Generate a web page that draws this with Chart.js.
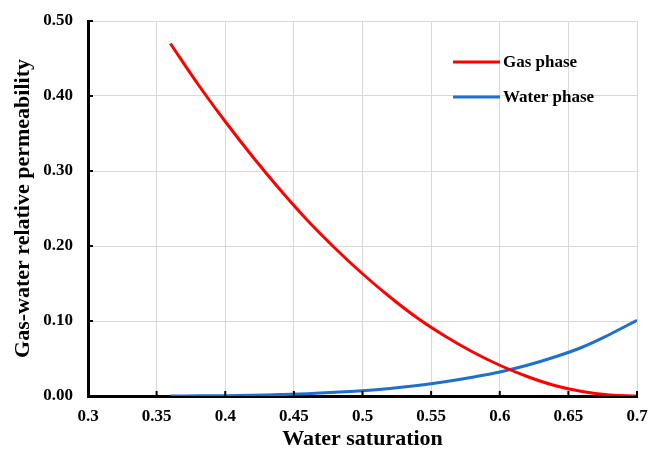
<!DOCTYPE html>
<html>
<head>
<meta charset="utf-8">
<script src="https://cdn.jsdelivr.net/npm/chart.js@4.4.1/dist/chart.umd.min.js"></script>
<style>
  html, body { margin: 0; padding: 0; background: #fff; }
  #wrap { width: 650px; height: 457px; }
</style>
</head>
<body>
<div id="wrap"><canvas id="relPerm" width="650" height="457"></canvas></div>
<script>
// Water saturation samples and relative permeability of each phase
const waterSat   = [0.36, 0.38, 0.40, 0.42, 0.44, 0.46, 0.48, 0.50, 0.52, 0.54, 0.56, 0.58, 0.60, 0.62, 0.64, 0.66, 0.68, 0.70];
const gasPhase   = [0.470, 0.416, 0.366, 0.319, 0.275, 0.234, 0.197, 0.163, 0.132, 0.104, 0.080, 0.059, 0.041, 0.026, 0.014, 0.006, 0.0015, 0.000];
const waterPhase = [0.000, 0.0002, 0.0005, 0.001, 0.002, 0.003, 0.005, 0.007, 0.010, 0.014, 0.019, 0.025, 0.032, 0.041, 0.052, 0.065, 0.082, 0.101];

const xTickLabels = ['0.3', '0.35', '0.4', '0.45', '0.5', '0.55', '0.6', '0.65', '0.7'];
const yTickLabels = ['0.00', '0.10', '0.20', '0.30', '0.40', '0.50'];
const seriesNames = ['Gas phase', 'Water phase'];
const seriesColors = ['#ff0000', '#1f6fd0'];

const FONT = '"Liberation Serif", "Times New Roman", serif';

function toPoints(ys) {
    return waterSat.map((x, i) => ({ x: x, y: ys[i] }));
}

// drop the extra room chart.js reserves for edge labels
function noEdgePadding(scale) {
    scale.paddingLeft = 0;
    scale.paddingRight = 0;
    scale.paddingTop = 0;
    scale.paddingBottom = 0;
}

// short tick marks pointing into the plot area
const innerTicks = {
    id: 'innerTicks',
    afterDatasetsDraw(chart) {
        const ctx = chart.ctx;
        const { x, y } = chart.scales;
        const area = chart.chartArea;
        ctx.save();
        ctx.strokeStyle = '#000';
        ctx.lineWidth = 2;
        x.ticks.forEach(t => {
            const px = x.getPixelForValue(t.value);
            ctx.beginPath();
            ctx.moveTo(px, area.bottom);
            ctx.lineTo(px, area.bottom - 5);
            ctx.stroke();
        });
        y.ticks.forEach(t => {
            const py = y.getPixelForValue(t.value);
            ctx.beginPath();
            ctx.moveTo(area.left, py);
            ctx.lineTo(area.left + 5, py);
            ctx.stroke();
        });
        ctx.restore();
    }
};

// legend box sitting inside the upper right of the plot
const insideLegend = {
    id: 'insideLegend',
    afterDraw(chart) {
        const ctx = chart.ctx;
        const rows = [62, 97];
        ctx.save();
        ctx.font = 'bold 17px ' + FONT;
        ctx.textBaseline = 'middle';
        ctx.fillStyle = '#000';
        chart.data.datasets.forEach((ds, i) => {
            ctx.strokeStyle = ds.borderColor;
            ctx.lineWidth = 3;
            ctx.beginPath();
            ctx.moveTo(453, rows[i]);
            ctx.lineTo(500, rows[i]);
            ctx.stroke();
            ctx.fillText(ds.label, 503, rows[i] + 1);
        });
        ctx.restore();
    }
};

new Chart(document.getElementById('relPerm'), {
    type: 'scatter',
    data: {
        datasets: [
            {
                label: seriesNames[0],
                data: toPoints(gasPhase),
                showLine: true,
                borderColor: seriesColors[0],
                borderWidth: 3,
                pointRadius: 0,
                tension: 0.4
            },
            {
                label: seriesNames[1],
                data: toPoints(waterPhase),
                showLine: true,
                borderColor: seriesColors[1],
                borderWidth: 3,
                pointRadius: 0,
                tension: 0.4
            }
        ]
    },
    options: {
        responsive: false,
        animation: false,
        layout: { padding: { top: 21, right: 13, left: 0, bottom: 0 } },
        plugins: {
            legend: { display: false },
            tooltip: { enabled: false }
        },
        scales: {
            x: {
                type: 'linear',
                min: 0.3,
                max: 0.7,
                afterFit(scale) {
                    scale.height = 61;
                    noEdgePadding(scale);
                },
                afterBuildTicks(scale) {
                    scale.ticks = xTickLabels.map(v => ({ value: parseFloat(v) }));
                },
                ticks: {
                    color: '#000',
                    padding: 10,
                    maxRotation: 0,
                    font: { family: FONT, size: 17, weight: 'bold' },
                    callback: (v, i) => xTickLabels[i]
                },
                grid: { color: '#d9d9d9', lineWidth: 1, drawTicks: false },
                border: { color: '#000', width: 3 },
                title: {
                    display: true,
                    text: 'Water saturation',
                    color: '#000',
                    padding: { top: 0, bottom: 4 },
                    font: { family: FONT, size: 22, weight: 'bold' }
                }
            },
            y: {
                min: 0,
                max: 0.5,
                afterFit(scale) {
                    scale.width = 88;
                    noEdgePadding(scale);
                },
                afterBuildTicks(scale) {
                    scale.ticks = yTickLabels.map(v => ({ value: parseFloat(v) }));
                },
                ticks: {
                    color: '#000',
                    padding: 15,
                    font: { family: FONT, size: 17, weight: 'bold' },
                    callback: (v, i) => yTickLabels[i]
                },
                grid: { color: '#d9d9d9', lineWidth: 1, drawTicks: false },
                border: { color: '#000', width: 3 },
                title: {
                    display: true,
                    text: 'Gas-water relative permeability',
                    color: '#000',
                    padding: { top: 10, bottom: 0 },
                    font: { family: FONT, size: 22, weight: 'bold' }
                }
            }
        }
    },
    plugins: [innerTicks, insideLegend]
});
</script>
</body>
</html>
